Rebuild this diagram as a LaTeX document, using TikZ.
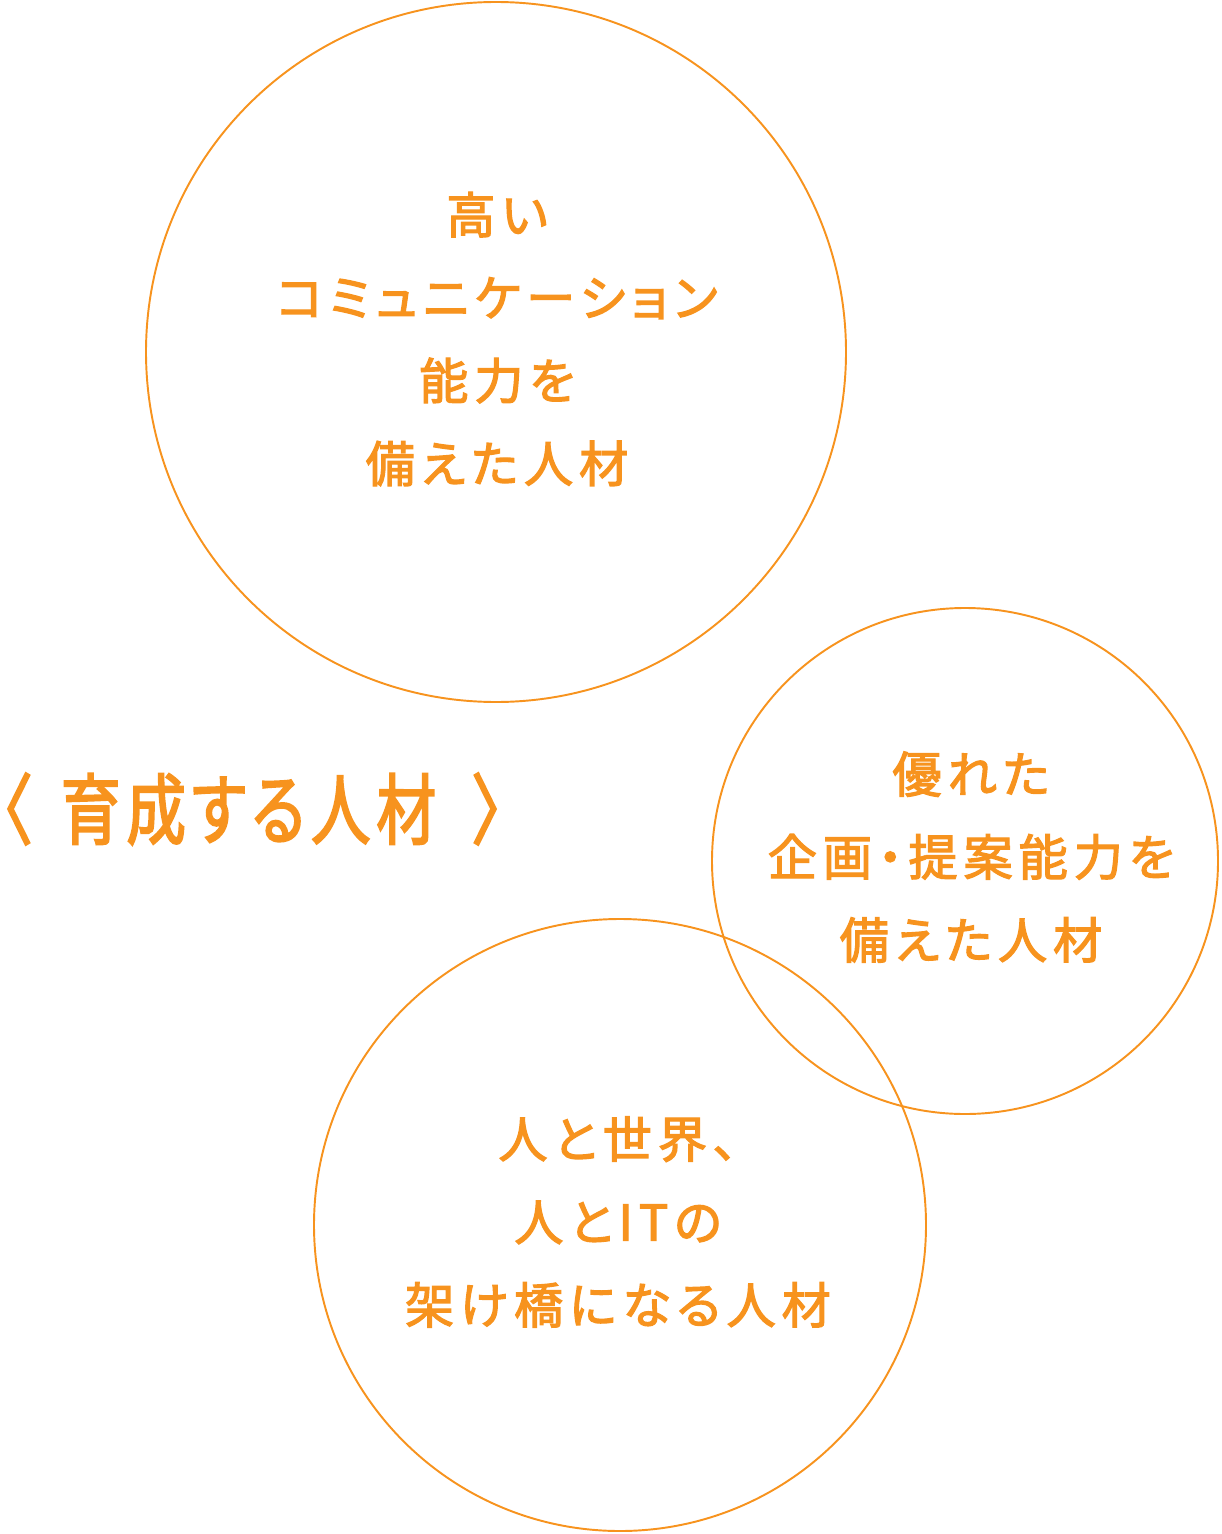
\documentclass[tikz,border=0pt]{standalone}
\usepackage{fontspec}
\usetikzlibrary{calc}
\newfontfamily\jpfont[LetterSpace=12, RawFeature=+palt, FakeBold=2.5]{Noto Sans CJK JP}
\newfontfamily\jptitle[LetterSpace=7.7, FakeStretch=0.77, RawFeature=+palt, FakeBold=2.5]{Noto Sans CJK JP}
\definecolor{kakiiro}{HTML}{F7931E}
\tikzset{
  ring/.style={draw=kakiiro, line width=1.1pt},
  bubbletext/.style={text=kakiiro, align=center, inner sep=0pt,
    font=\jpfont\fontsize{28}{47.2}\selectfont},
}

\begin{document}
\begin{tikzpicture}[x=0.02cm, y=-0.02cm]
            \useasboundingbox (0,0) rectangle (1221,1534);
            \coordinate (A) at (496,352);
            \coordinate (B) at (965,861);
            \coordinate (C) at (620,1225);
            \draw[ring] (A) circle[radius=350];
            \draw[ring] (B) circle[radius=253];
            \draw[ring] (C) circle[radius=306];
            \node[bubbletext] (komyu) at ($(A)+(1,-13)$) {高い\\コミュニケーション\\能力を\\備えた人材};
            \node[bubbletext] (kikaku) at ($(B)+(6,-4)$) {優れた\\企画・提案能力を\\備えた人材};
            \node[bubbletext] (kakehashi) at ($(C)+(-2,-3)$) {人と世界、\\人とITの\\架け橋になる人材};
            \node[text=kakiiro, inner sep=0pt, anchor=west,
              font=\jptitle\fontsize{44}{50}\selectfont] (ikusei) at (1,809)
              {〈\hspace{17pt}育成する人材\hspace{21pt}〉};
        \end{tikzpicture}
\end{document}
